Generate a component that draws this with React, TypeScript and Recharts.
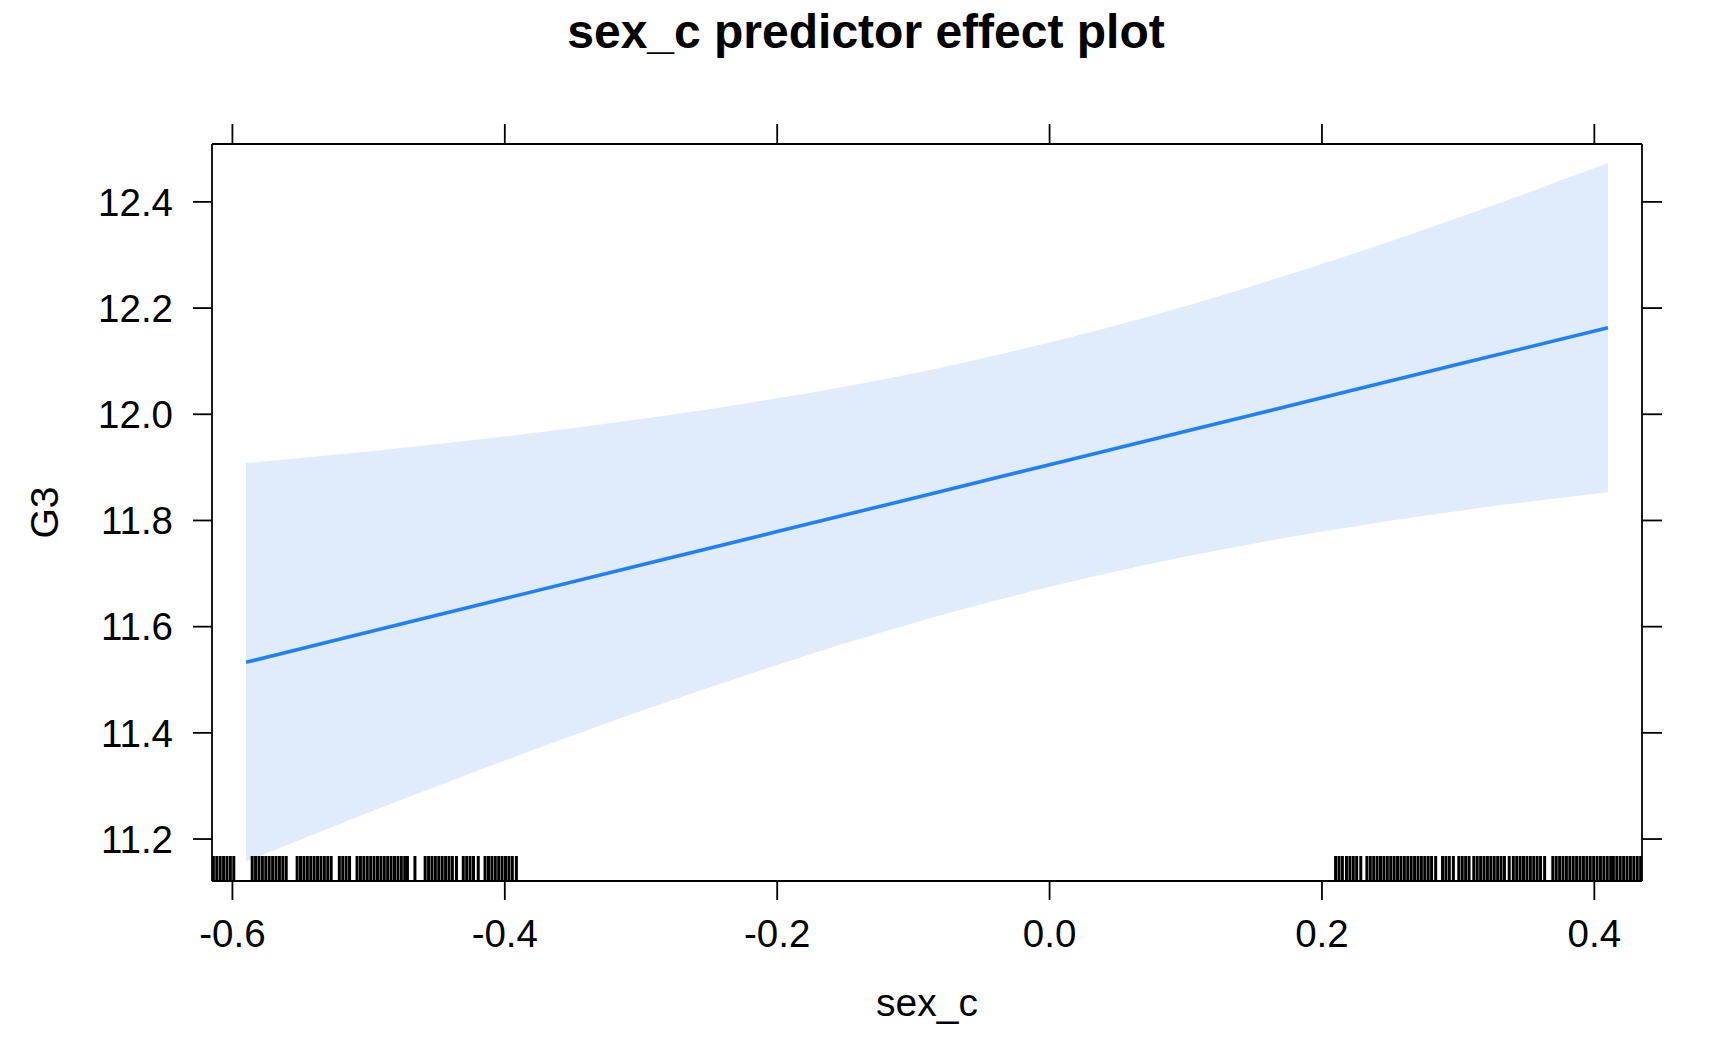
import { Area, ComposedChart, Label, Line, Scatter, XAxis, YAxis } from "recharts";

// effect estimate and 95% band
const bandX = [-0.59, -0.5, -0.4, -0.3, -0.2, -0.1, 0.0, 0.1, 0.2, 0.3, 0.41];
const fitY = [11.533, 11.59, 11.653, 11.716, 11.779, 11.842, 11.905, 11.968, 12.031, 12.094, 12.163];
const lowerY = [11.158, 11.25, 11.348, 11.441, 11.528, 11.607, 11.675, 11.732, 11.779, 11.818, 11.853];
const upperY = [11.908, 11.93, 11.958, 11.991, 12.03, 12.077, 12.135, 12.204, 12.283, 12.37, 12.473];

// jittered sex_c values for the rug
const rugFemale = [
  -0.614, -0.6115, -0.609, -0.6065, -0.604, -0.6015, -0.599,
  -0.5855, -0.583, -0.5805, -0.578, -0.5755, -0.573, -0.5705, -0.568, -0.5655, -0.563, -0.5605,
  -0.5525, -0.55, -0.5475, -0.545, -0.5425, -0.54, -0.5375, -0.535, -0.5325, -0.53, -0.5275,
  -0.5215, -0.519, -0.5165, -0.514,
  -0.5085, -0.506, -0.5035, -0.501, -0.4985, -0.496, -0.4935, -0.491, -0.4885, -0.486, -0.4835, -0.481, -0.4785, -0.476, -0.4735, -0.4715,
  -0.466,
  -0.4585, -0.456, -0.4535, -0.451, -0.4485, -0.446, -0.4435, -0.441, -0.4385, -0.4355,
  -0.4305, -0.428, -0.4255, -0.423, -0.4195,
  -0.4145, -0.412, -0.4095, -0.407, -0.4045, -0.402, -0.3995, -0.397, -0.3945, -0.3915,
];
const rugMale = [
  0.21, 0.2125, 0.215,
  0.218, 0.2205, 0.223, 0.2255, 0.2285,
  0.233, 0.2355, 0.238, 0.2405, 0.243, 0.2455, 0.248, 0.2505, 0.253, 0.2555, 0.258, 0.2605, 0.263, 0.2655, 0.268, 0.2705, 0.273, 0.2755, 0.278, 0.2805, 0.2835,
  0.2885, 0.291, 0.2935, 0.2965,
  0.3005, 0.303, 0.3055, 0.308,
  0.3115, 0.314, 0.3165, 0.319, 0.3215, 0.324,
  0.3265, 0.329, 0.3315, 0.334, 0.3375,
  0.3405, 0.343, 0.3455, 0.348, 0.3505, 0.353, 0.3555, 0.358, 0.3605, 0.3635,
  0.3695, 0.372, 0.3745, 0.377, 0.3795, 0.382, 0.3845, 0.387, 0.3895, 0.392,
  0.3945, 0.397, 0.3995, 0.402, 0.4045, 0.407, 0.4095, 0.412, 0.414,
  0.4165, 0.419, 0.4215, 0.424, 0.4265,
  0.429, 0.4315, 0.434,
];

const xTicks = [-0.6, -0.4, -0.2, 0.0, 0.2, 0.4];
const yTicks = [11.2, 11.4, 11.6, 11.8, 12.0, 12.2, 12.4];
const xDomain: [number, number] = [-0.615, 0.435];
const yDomain: [number, number] = [11.121, 12.509];

const FONT = '"Liberation Sans", Arial, Helvetica, sans-serif';
const BAND = "#E0EBFC";
const LINE = "#1F80FF";

const data = bandX.map((x, i) => ({ x, fit: fitY[i], band: [lowerY[i], upperY[i]] }));
const rug = [...rugFemale, ...rugMale].map((x) => ({ x, y: yDomain[0] }));

const tickStyle = { fill: "#000", fontSize: 38.5, fontFamily: FONT };
const blank = () => "";
const axisStroke = { stroke: "#000", strokeWidth: 1.8 };

const RugTick = (props: any) => (
  <line x1={props.cx} x2={props.cx} y1={props.cy} y2={props.cy - 25} stroke="#000" strokeWidth={3} />
);

export default function App() {
  return (
    <div style={{ position: "relative", width: 1716, height: 1044, fontFamily: FONT }}>
      <div
        style={{
          position: "absolute",
          top: 0,
          left: 0,
          width: 1716,
          textAlign: "center",
          fontSize: 48,
          lineHeight: "48px",
          fontWeight: "bold",
          color: "#000",
        }}
      >
        sex_c predictor effect plot
      </div>
      <ComposedChart
        width={1716}
        height={1044}
        data={data}
        margin={{ top: 106, right: 52, bottom: 67, left: 4 }}
        style={{ fontFamily: FONT }}
      >
        <XAxis
          dataKey="x"
          type="number"
          domain={xDomain}
          ticks={xTicks}
          allowDataOverflow
          interval={0}
          height={104}
          tickSize={19}
          tickMargin={20}
          tick={tickStyle}
          tickFormatter={(v: number) => v.toFixed(1)}
          axisLine={axisStroke}
          tickLine={axisStroke}
        >
          <Label
            content={(p: any) => {
              const vb = p.viewBox;
              return (
                <text x={vb.x + vb.width / 2} y={1008} textAnchor="middle" fontSize={39} fontFamily={FONT} fill="#000">
                  sex_c
                </text>
              );
            }}
          />
        </XAxis>
        <XAxis
          xAxisId="top"
          dataKey="x"
          orientation="top"
          type="number"
          domain={xDomain}
          ticks={xTicks}
          allowDataOverflow
          interval={0}
          height={30}
          tickSize={20}
          tickFormatter={blank}
          axisLine={axisStroke}
          tickLine={axisStroke}
        />
        <YAxis
          type="number"
          domain={yDomain}
          ticks={yTicks}
          allowDataOverflow
          interval={0}
          width={200}
          tickSize={19}
          tickMargin={20}
          tick={tickStyle}
          tickFormatter={(v: number) => v.toFixed(1)}
          axisLine={axisStroke}
          tickLine={axisStroke}
        >
          <Label
            content={(p: any) => {
              const vb = p.viewBox;
              const cy = vb.y + vb.height / 2;
              return (
                <text
                  x={50}
                  y={cy}
                  transform={`rotate(-90, 50, ${cy})`}
                  textAnchor="middle"
                  fontSize={39}
                  fontFamily={FONT}
                  fill="#000"
                >
                  G3
                </text>
              );
            }}
          />
        </YAxis>
        <YAxis
          yAxisId="right"
          orientation="right"
          type="number"
          domain={yDomain}
          ticks={yTicks}
          allowDataOverflow
          interval={0}
          width={30}
          tickSize={20}
          tickFormatter={blank}
          axisLine={axisStroke}
          tickLine={axisStroke}
        />
        <Area
          dataKey="band"
          type="monotone"
          fill={BAND}
          fillOpacity={1}
          stroke="none"
          isAnimationActive={false}
        />
        <Line dataKey="fit" type="linear" stroke={LINE} strokeWidth={3.6} dot={false} isAnimationActive={false} />
        {/* invisible series so the top frame axis gets a proper scale */}
        <Line xAxisId="top" dataKey="fit" stroke="none" dot={false} activeDot={false} isAnimationActive={false} />
        <Scatter data={rug} dataKey="y" shape={RugTick} isAnimationActive={false} />
      </ComposedChart>
    </div>
  );
}
